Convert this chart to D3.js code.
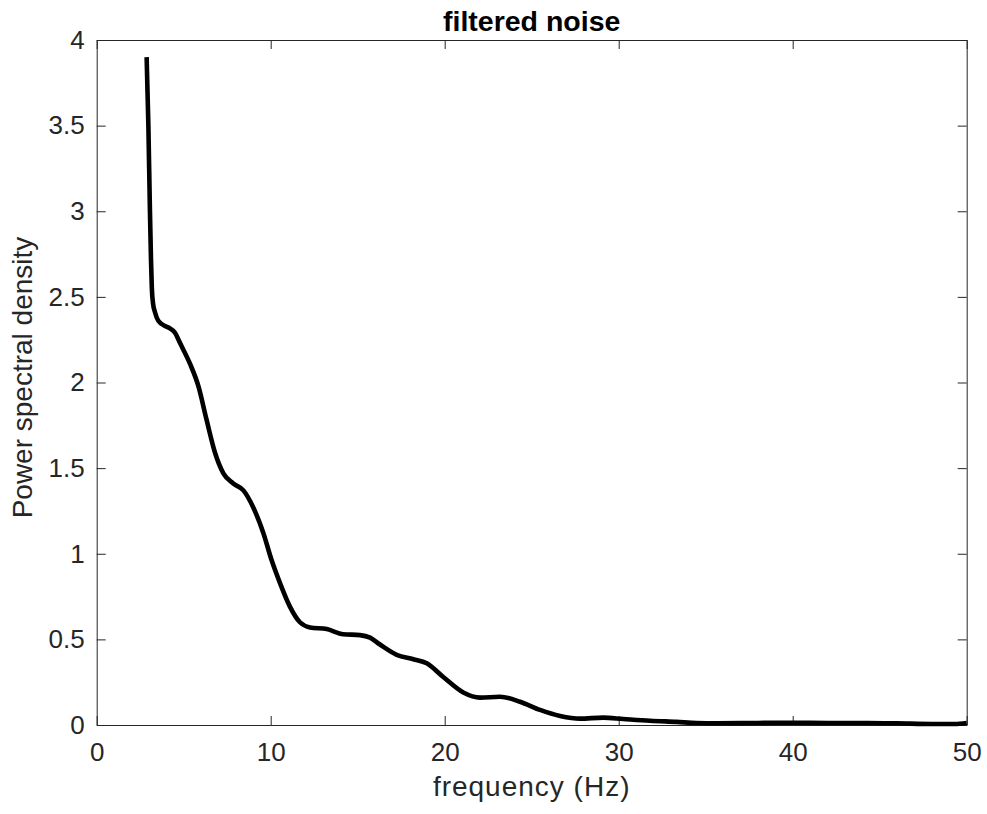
<!DOCTYPE html>
<html>
<head>
<meta charset="utf-8">
<script src="https://cdn.jsdelivr.net/npm/d3@7"></script>
<style>
  body { margin: 0; background: #fff; }
  svg { font-family: "Liberation Sans", Arial, sans-serif; }
  .axis path, .axis line { stroke: #262626; }
  .axis text { fill: #262626; font-size: 26px; }
</style>
</head>
<body>
<div id="chart"></div>
<script>
// values
const freq = [2.87, 2.97, 3.06, 3.12, 3.17, 3.24, 3.35, 3.54, 3.93, 4.15, 4.5, 4.79, 5.36, 5.84, 6.32, 6.8,
  7.28, 7.85, 8.43, 9.0, 9.58, 10.06, 10.53, 11.11, 11.68, 12.26, 13.22, 14.17, 15.13, 15.71, 16.28,
  17.24, 18.2, 18.97, 19.92, 21.07, 22.03, 23.18, 24.33, 25.48, 26.63, 27.78, 29.1, 30.27, 31.8,
  33.33, 34.48, 35.6, 38, 40, 42, 44.3, 46, 48, 49.3, 50];
const psd = [3.90, 3.5, 3.0, 2.72, 2.55, 2.46, 2.41, 2.36, 2.33, 2.32, 2.29, 2.23, 2.11, 1.98, 1.78, 1.59,
  1.47, 1.41, 1.37, 1.27, 1.12, 0.96, 0.83, 0.69, 0.60, 0.57, 0.56, 0.53, 0.525, 0.51, 0.47,
  0.41, 0.384, 0.36, 0.28, 0.19, 0.16, 0.165, 0.136, 0.088, 0.053, 0.037, 0.043, 0.035, 0.025,
  0.018, 0.012, 0.01, 0.012, 0.013, 0.012, 0.012, 0.01, 0.006, 0.006, 0.012];
const xTicks = [0, 10, 20, 30, 40, 50];
const yTicks = [0, 0.5, 1, 1.5, 2, 2.5, 3, 3.5, 4];
const titleText = "filtered noise";
const xLabel = "frequency (Hz)";
const yLabel = "Power spectral density";

const width = 987, height = 814;
const margin = { top: 40, right: 20.3, bottom: 89, left: 96.7 };
const innerWidth = width - margin.left - margin.right;
const innerHeight = height - margin.top - margin.bottom;

const svg = d3.select("#chart").append("svg")
    .attr("width", width)
    .attr("height", height);

const g = svg.append("g")
    .attr("transform", `translate(${margin.left},${margin.top})`);

const x = d3.scaleLinear().domain([0, 50]).range([0, innerWidth]);
const y = d3.scaleLinear().domain([0, 4]).range([innerHeight, 0]);

const fmt = d => String(d);
const tk = 9; // Ticks zeigen nach innen

// unten / oben
g.append("g").attr("class", "axis")
  .attr("transform", `translate(0,${innerHeight})`)
  .call(d3.axisBottom(x).tickValues(xTicks).tickFormat(fmt).tickSizeInner(-tk).tickSizeOuter(0).tickPadding(18));
g.append("g").attr("class", "axis")
  .call(d3.axisTop(x).tickValues(xTicks).tickSizeInner(-tk).tickSizeOuter(0))
  .selectAll("text").remove();

// links / rechts
g.append("g").attr("class", "axis")
  .call(d3.axisLeft(y).tickValues(yTicks).tickFormat(fmt).tickSizeInner(-tk).tickSizeOuter(0).tickPadding(12));
g.append("g").attr("class", "axis")
  .attr("transform", `translate(${innerWidth},0)`)
  .call(d3.axisRight(y).tickValues(yTicks).tickSizeInner(-tk).tickSizeOuter(0))
  .selectAll("text").remove();

g.selectAll(".axis text").attr("font-family", "Liberation Sans, Arial, sans-serif");

// Kurve
const pts = freq.map((f, i) => ({ f, p: psd[i] }));
const line = d3.line()
    .x(d => x(d.f))
    .y(d => y(d.p))
    .curve(d3.curveMonotoneX);

g.append("path")
  .datum(pts)
  .attr("d", line)
  .attr("fill", "none")
  .attr("stroke", "#000")
  .attr("stroke-width", 4.6)
  .attr("stroke-linecap", "butt")
  .attr("stroke-linejoin", "round");

// Beschriftungen
svg.append("text")
  .attr("x", margin.left + innerWidth / 2)
  .attr("y", 31)
  .attr("text-anchor", "middle")
  .attr("font-size", 28.5)
  .attr("font-weight", "bold")
  .attr("fill", "#000")
  .text(titleText);

svg.append("text")
  .attr("x", margin.left + innerWidth / 2)
  .attr("y", 796)
  .attr("text-anchor", "middle")
  .attr("font-size", 28)
  .attr("letter-spacing", 1)
  .attr("fill", "#262626")
  .text(xLabel);

svg.append("text")
  .attr("transform", `translate(32,${margin.top + innerHeight / 2 - 5}) rotate(-90)`)
  .attr("text-anchor", "middle")
  .attr("font-size", 28)
  .attr("fill", "#262626")
  .text(yLabel);
</script>
</body>
</html>
